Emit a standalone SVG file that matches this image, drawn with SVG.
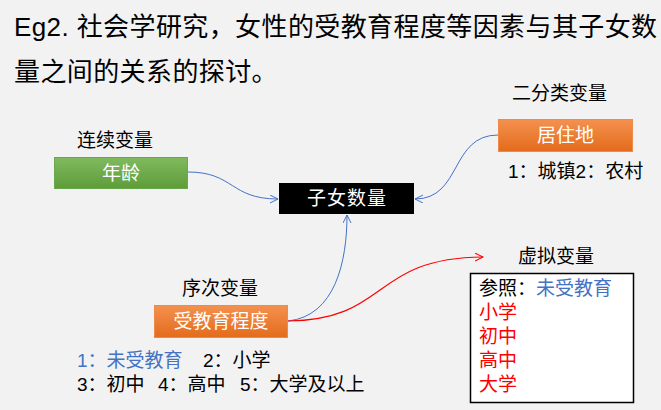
<svg xmlns="http://www.w3.org/2000/svg" width="661" height="410" viewBox="0 0 661 410">
  <defs>
    <linearGradient id="gradGreen" x1="0" y1="0" x2="0" y2="1">
      <stop offset="0" stop-color="#80ba60"/>
      <stop offset="1" stop-color="#5e9c38"/>
    </linearGradient>
    <linearGradient id="gradOrange" x1="0" y1="0" x2="0" y2="1">
      <stop offset="0" stop-color="#f4914f"/>
      <stop offset="1" stop-color="#e46b1b"/>
    </linearGradient>
    <marker id="arrowBlue" markerWidth="10" markerHeight="10" refX="8" refY="4" orient="auto" markerUnits="userSpaceOnUse">
      <path d="M0,0 L8,4 L0,8" fill="none" stroke="#4472c4" stroke-width="1"/>
    </marker>
    <marker id="arrowRed" markerWidth="10" markerHeight="10" refX="8" refY="4" orient="auto" markerUnits="userSpaceOnUse">
      <path d="M0,0 L8,4 L0,8" fill="none" stroke="#ff0000" stroke-width="1"/>
    </marker>
  </defs>
  <style>
    text { font-family: "Liberation Sans", "Noto Sans CJK SC", sans-serif; }
    .title { font-size: 26px; fill: #000; letter-spacing: 0.4px; }
    .lbl { font-size: 19px; fill: #000; }
    .box-txt { font-size: 19px; fill: #fff; text-anchor: middle; }
    .blue { fill: #4472c4; }
    .red { fill: #ff0000; }
    .conn-blue { fill: none; stroke: #4472c4; stroke-width: 1; marker-end: url(#arrowBlue); }
    .conn-red { fill: none; stroke: #ff0000; stroke-width: 1.2; marker-end: url(#arrowRed); }
  </style>

  <!-- background -->
  <rect x="0" y="0" width="661" height="410" fill="#f2f2f2"/>

  <!-- heading -->
  <g id="title">
    <text class="title" x="14" y="36">Eg2. 社会学研究，女性的受教育程度等因素与其子女数</text>
    <text class="title" x="14" y="81">量之间的关系的探讨。</text>
  </g>

  <!-- connectors -->
  <g id="connectors">
    <path class="conn-blue" d="M188,172 C234,172 230,199 278,199"/>
    <path class="conn-blue" d="M498,135 C450,135 462,199 415,199"/>
    <path class="conn-blue" d="M288,321 C335,316 347,262 347,215"/>
    <path class="conn-red" d="M288,321 C390,320 370,258 483,257"/>
  </g>

  <!-- age (continuous) -->
  <g id="node-age">
    <text class="lbl" x="77" y="147">连续变量</text>
    <rect x="54.5" y="157.5" width="133" height="31" fill="url(#gradGreen)" stroke="#6aa84f" stroke-width="1"/>
    <text class="box-txt" x="121" y="180">年龄</text>
  </g>

  <!-- number of children (outcome) -->
  <g id="node-children">
    <rect x="279" y="183" width="135" height="31" fill="#000"/>
    <text class="box-txt" x="347" y="205" style="letter-spacing:1px">子女数量</text>
  </g>

  <!-- residence (binary) -->
  <g id="node-residence">
    <text class="lbl" x="512" y="100">二分类变量</text>
    <rect x="498.5" y="119.5" width="134" height="32" fill="url(#gradOrange)" stroke="#f08a4b" stroke-width="1"/>
    <text class="box-txt" x="565.5" y="142">居住地</text>
    <text class="lbl" x="508" y="178">1：城镇2：农村</text>
  </g>

  <!-- education (ordinal) -->
  <g id="node-education">
    <text class="lbl" x="182" y="295">序次变量</text>
    <rect x="154.5" y="305.5" width="133" height="32" fill="url(#gradOrange)" stroke="#f08a4b" stroke-width="1"/>
    <text class="box-txt" x="221" y="328">受教育程度</text>
    <text class="lbl" x="77" y="367"><tspan class="blue">1：未受教育</tspan><tspan x="203">2：小学</tspan></text>
    <text class="lbl" x="77" y="391">3：初中<tspan x="158">4：高中</tspan><tspan x="240">5：大学及以上</tspan></text>
  </g>

  <!-- dummy coding -->
  <g id="node-dummy">
    <text class="lbl" x="518" y="263">虚拟变量</text>
    <rect x="470.5" y="273.5" width="163" height="129" fill="#fff" stroke="#000" stroke-width="1.5"/>
    <text class="lbl" x="479" y="295">参照：<tspan class="blue">未受教育</tspan></text>
    <text class="lbl red" x="479" y="319">小学</text>
    <text class="lbl red" x="479" y="343">初中</text>
    <text class="lbl red" x="479" y="367">高中</text>
    <text class="lbl red" x="479" y="391">大学</text>
  </g>
</svg>
